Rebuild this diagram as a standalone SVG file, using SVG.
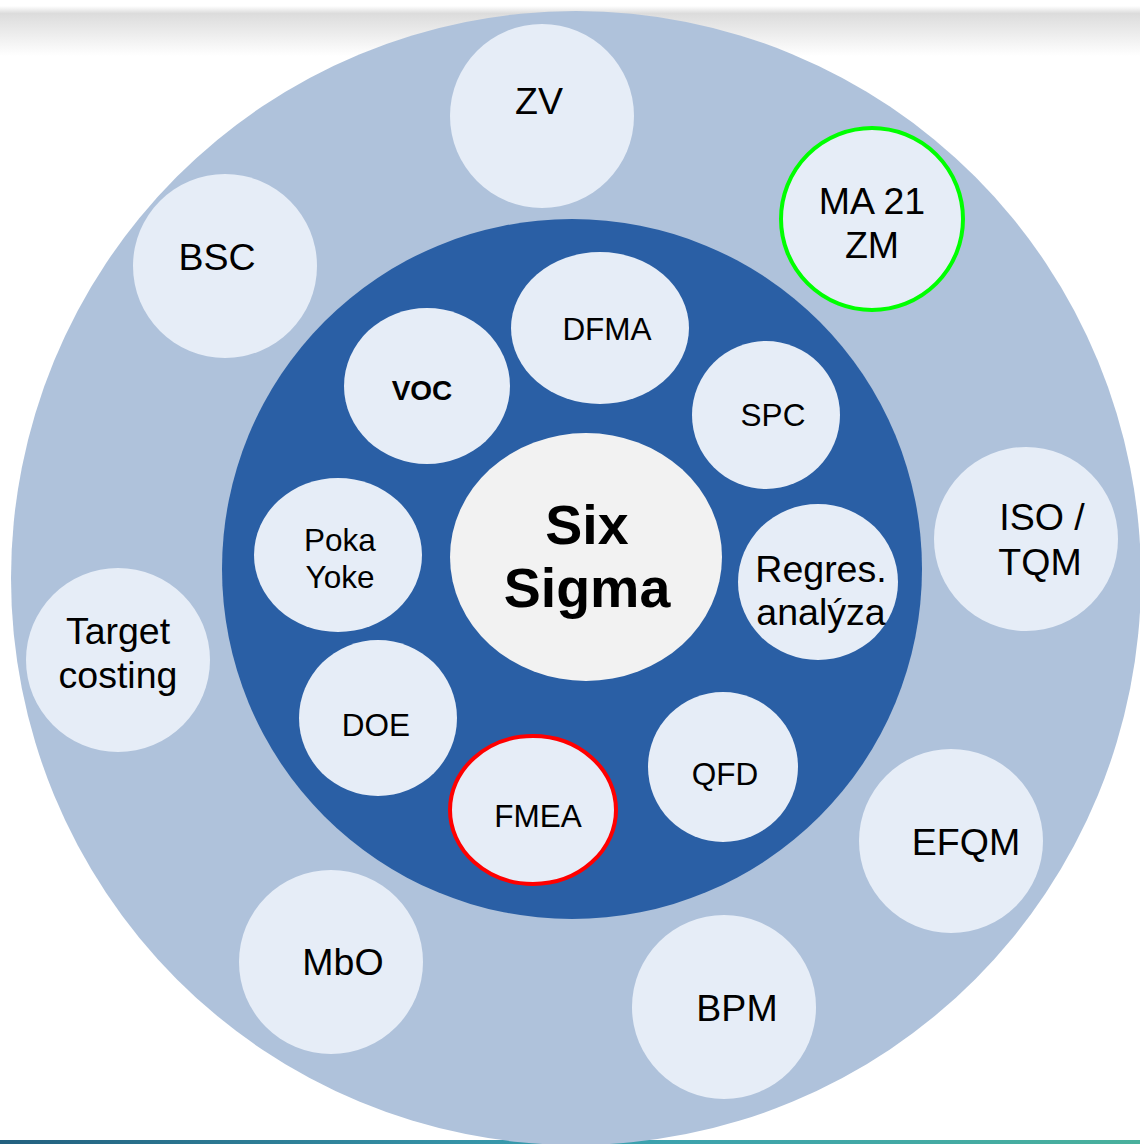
<svg xmlns="http://www.w3.org/2000/svg" width="1140" height="1144" viewBox="0 0 1140 1144">
<defs>
<linearGradient id="topband" x1="0" y1="0" x2="0" y2="1">
<stop offset="0" stop-color="#ffffff"/>
<stop offset="0.15" stop-color="#dcdcdc"/>
<stop offset="1" stop-color="#ffffff"/>
</linearGradient>
<linearGradient id="botline" x1="0" y1="0" x2="1" y2="0">
<stop offset="0" stop-color="#23607f"/>
<stop offset="0.5" stop-color="#3a9fb0"/>
<stop offset="1" stop-color="#49b09c"/>
</linearGradient>
<style>
.outer{fill:#e6edf7}
.inner{fill:#e6edf7}
.t{font-family:"Liberation Sans",Arial,sans-serif;fill:#000;text-anchor:middle}
.big{font-size:37.5px}
.small{font-size:31.5px}
</style>
</defs>
<rect width="1140" height="1144" fill="#ffffff"/>
<rect x="0" y="6" width="1140" height="50" fill="url(#topband)"/>
<rect x="0" y="1140" width="1140" height="4" fill="url(#botline)"/>
<g id="ring-outer"><ellipse cx="576" cy="578" rx="565" ry="567" fill="#afc2db"/></g>
<g id="ring-inner"><circle cx="572" cy="569" r="350" fill="#2a5fa5"/></g>

<g id="zv"><circle class="outer" cx="542" cy="116" r="92"/><text class="t big" x="539" y="114">ZV</text></g>
<g id="ma21zm"><circle class="outer" cx="872" cy="219" r="91" stroke="#00ff00" stroke-width="4"/><text class="t big" x="872" y="214">MA 21</text><text class="t big" x="872" y="258">ZM</text></g>
<g id="bsc"><circle class="outer" cx="225" cy="266" r="92"/><text class="t big" x="217" y="270">BSC</text></g>
<g id="isotqm"><circle class="outer" cx="1026" cy="539" r="92"/><text class="t big" x="1042" y="530">ISO /</text><text class="t big" x="1040" y="575">TQM</text></g>
<g id="target"><circle class="outer" cx="118" cy="660" r="92"/><text class="t big" x="118" y="644">Target</text><text class="t big" x="118" y="688">costing</text></g>
<g id="efqm"><circle class="outer" cx="951" cy="841" r="92"/><text class="t big" x="966" y="855">EFQM</text></g>
<g id="mbo"><circle class="outer" cx="331" cy="962" r="92"/><text class="t big" x="343" y="975">MbO</text></g>
<g id="bpm"><circle class="outer" cx="724" cy="1007" r="92"/><text class="t big" x="737" y="1021">BPM</text></g>

<g id="dfma"><ellipse class="inner" cx="600" cy="328" rx="89" ry="76"/><text class="t small" x="607" y="340">DFMA</text></g>
<g id="voc"><ellipse class="inner" cx="427" cy="386" rx="83" ry="78"/><text class="t" x="422" y="400" font-size="40" font-weight="bold" font-variant="small-caps">voc</text></g>
<g id="spc"><ellipse class="inner" cx="766" cy="415" rx="74" ry="74"/><text class="t small" x="773" y="426">SPC</text></g>
<g id="pokayoke"><ellipse class="inner" cx="338" cy="555" rx="84" ry="77"/><text class="t small" x="340" y="551">Poka</text><text class="t small" x="340" y="588">Yoke</text></g>
<g id="sixsigma"><ellipse cx="586" cy="557" rx="136" ry="124" fill="#f2f2f2"/><text class="t" x="587" y="544" font-size="55.5" font-weight="bold">Six</text><text class="t" x="587" y="607" font-size="55.5" font-weight="bold">Sigma</text></g>
<g id="regres"><ellipse class="inner" cx="818" cy="582" rx="80" ry="78"/><text class="t big" x="821" y="582">Regres.</text><text class="t big" x="821" y="625">analýza</text></g>
<g id="doe"><ellipse class="inner" cx="378" cy="718" rx="79" ry="78"/><text class="t small" x="376" y="736">DOE</text></g>
<g id="qfd"><ellipse class="inner" cx="723" cy="767" rx="75" ry="75"/><text class="t small" x="725" y="785">QFD</text></g>
<g id="fmea"><ellipse class="inner" cx="533" cy="810" rx="83" ry="74" stroke="#ff0000" stroke-width="4"/><text class="t small" x="538" y="827">FMEA</text></g>
<g id="connectors"></g>
</svg>
